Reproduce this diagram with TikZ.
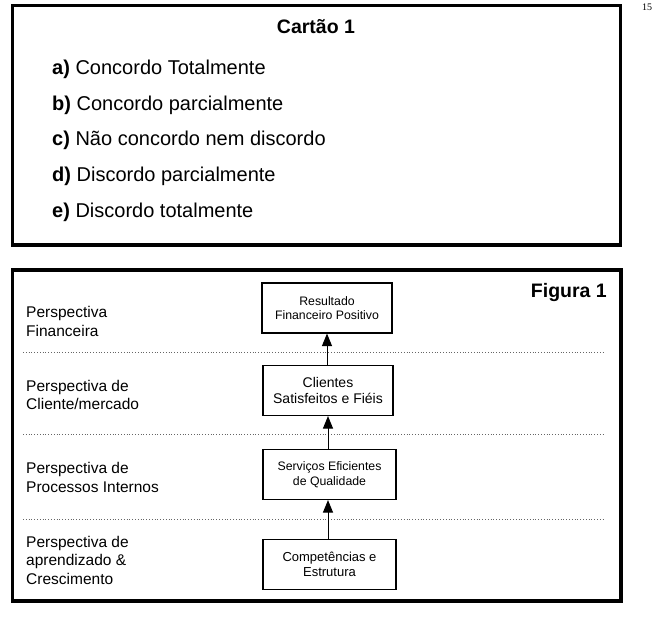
\documentclass[tikz,border=0pt]{standalone}
\usepackage{fontspec}
\setmainfont{Liberation Sans}
\newfontfamily\pagefont{Liberation Serif}
\usepackage{tikz}
\usetikzlibrary{arrows.meta, positioning}

\begin{document}
\begin{tikzpicture}[x=1pt,y=-1pt]
        \useasboundingbox (0,0) rectangle (656,638);
        % page number
        \node[anchor=base west,inner sep=0,font=\pagefont\fontsize{10}{12}\selectfont] (pg) at (642,10.5) {15};
        % frames
        \draw[line width=3.5pt] (12.5,5.5) rectangle (620.5,245);
        \draw[line width=3.5pt] (12.5,270) rectangle (621,601);
        % card
        \node[anchor=base,inner sep=0,font=\bfseries\fontsize{19.5}{23}\selectfont] (cartao) at (316,33) {Cartão 1};
        \begin{scope}[every node/.style={anchor=base west,inner sep=0,font=\fontsize{20}{24}\selectfont}]
          \node (ia) at (52,74) {\textbf{a)} Concordo Totalmente};
          \node (ib) at (52,110) {\textbf{b)} Concordo parcialmente};
          \node (ic) at (52,145.5) {\textbf{c)} Não concordo nem discordo};
          \node (id) at (52,181) {\textbf{d)} Discordo parcialmente};
          \node (ie) at (52,217) {\textbf{e)} Discordo totalmente};
        \end{scope}
        % figure
        \node[anchor=base east,inner sep=0,font=\bfseries\fontsize{19.5}{23}\selectfont] (fig) at (607,297) {Figura 1};
        \begin{scope}[every path/.style={draw=gray!80!black,dotted,line width=0.8pt}]
          \draw (23,352) -- (605,352);
          \draw (23,434) -- (605,434);
          \draw (23,519) -- (605,519);
        \end{scope}
        \begin{scope}[every node/.style={anchor=west,inner sep=0,align=left,font=\fontsize{15.5}{18.5}\selectfont}]
          \node (pf) at (26,321.5) {Perspectiva\\Financeira};
          \node (pc) at (26,395) {Perspectiva de\\Cliente/mercado};
          \node (pp) at (26,477.5) {Perspectiva de\\Processos Internos};
          \node (pa) at (26,560) {Perspectiva de\\aprendizado \&\\Crescimento};
        \end{scope}
        \begin{scope}[every node/.style={draw,line width=1.1pt,minimum width=130pt,minimum height=50pt,align=center,font=\fontsize{12.3}{14.5}\selectfont}]
          \node (res) at (327,308) {Resultado\\Financeiro Positivo};
          \node[font=\fontsize{14}{16.5}\selectfont] (cli) at (328,390.5) {Clientes\\Satisfeitos e Fiéis};
          \node[minimum width=133pt] (ser) at (329.5,474.5) {Serviços Eficientes\\de Qualidade};
          \node[minimum width=133pt,font=\fontsize{13}{15.5}\selectfont] (com) at (329.5,564.5) {Competências e\\Estrutura};
        \end{scope}
        \begin{scope}[every path/.style={draw,line width=1pt,-{Triangle[length=12.5pt,width=10pt]}}]
          \path (cli.north -| res.south) -- (res.south);
          \path (ser.north -| cli.south) -- (cli.south);
          \path (com.north -| 328,0) -- (ser.south -| 328,0);
        \end{scope}
      \end{tikzpicture}
\end{document}
